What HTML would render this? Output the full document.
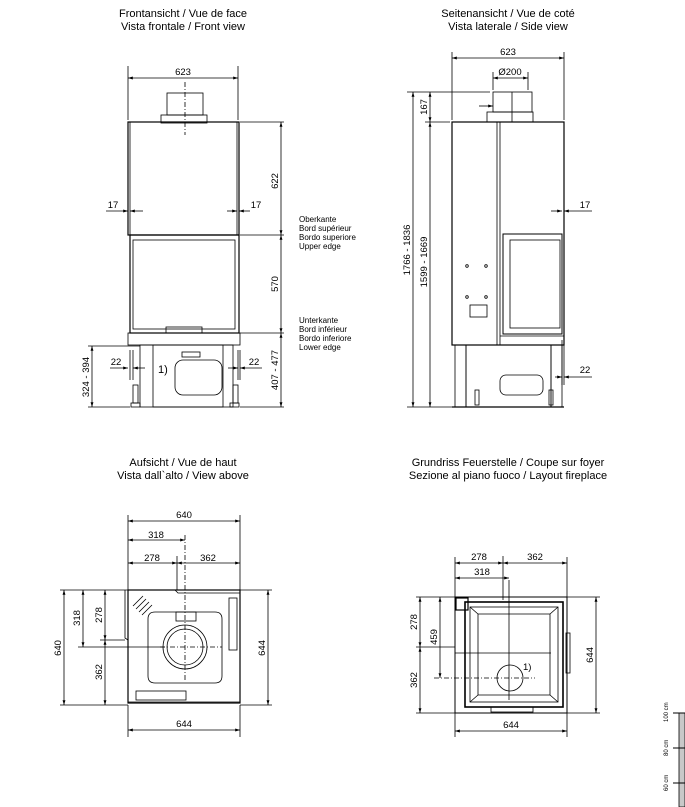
<!DOCTYPE html>
<html><head><meta charset="utf-8"><style>
html,body{margin:0;padding:0;background:#fff;}
svg{display:block;font-family:"Liberation Sans",sans-serif;}
text{fill:#000;}
.t{font-size:11px;text-anchor:middle;}
.d{font-size:9.5px;}
.s{font-size:8px;}
</style></head><body>
<svg width="685" height="807" viewBox="0 0 685 807" xmlns="http://www.w3.org/2000/svg">
<defs>
<marker id="a" viewBox="0 0 10 10" refX="10" refY="5" markerWidth="6" markerHeight="6" orient="auto-start-reverse"><path d="M0,2 L10,5 L0,8z" fill="#000"/></marker>
</defs>
<g stroke="#000" fill="none" stroke-width="0.8">
<!-- ===== FRONT VIEW ===== -->
<rect x="161" y="115" width="46" height="8" fill="#fff"/>
<rect x="167" y="93" width="36" height="22"/>
<line x1="185" y1="82" x2="185" y2="135" stroke-dasharray="5,2,1,2"/>
<rect x="128" y="122" width="111" height="113" stroke-width="1.2"/>
<line x1="130" y1="122" x2="130" y2="235"/><line x1="237" y1="122" x2="237" y2="235"/>
<rect x="130" y="235" width="109" height="98" stroke-width="1.2"/>
<rect x="133" y="240" width="102" height="89"/>
<rect x="166" y="327" width="36" height="6"/>
<rect x="128" y="333" width="112" height="12"/>
<rect x="140" y="345" width="93" height="62"/>
<rect x="153" y="345" width="70" height="62"/>
<rect x="175" y="360" width="47" height="35" rx="8"/>
<rect x="182" y="352" width="18" height="5"/>
<rect x="133" y="385" width="5" height="18"/><rect x="233" y="385" width="5" height="18"/>
<rect x="131" y="403" width="9" height="4"/><rect x="230" y="403" width="9" height="4"/>
<!-- front dims -->
<line x1="128" y1="66" x2="128" y2="120"/><line x1="238" y1="66" x2="238" y2="120"/>
<line x1="128" y1="78" x2="238" y2="78" marker-start="url(#a)" marker-end="url(#a)"/>
<line x1="240" y1="122" x2="284" y2="122"/><line x1="240" y1="235" x2="284" y2="235"/>
<line x1="240" y1="333" x2="284" y2="333"/><line x1="240" y1="407" x2="284" y2="407"/>
<line x1="281" y1="122" x2="281" y2="235" marker-start="url(#a)" marker-end="url(#a)"/>
<line x1="281" y1="235" x2="281" y2="333" marker-start="url(#a)" marker-end="url(#a)"/>
<line x1="281" y1="333" x2="281" y2="407" marker-start="url(#a)" marker-end="url(#a)"/>
<line x1="88" y1="346" x2="140" y2="346"/><line x1="88" y1="407" x2="130" y2="407"/>
<line x1="92" y1="346" x2="92" y2="407" marker-start="url(#a)" marker-end="url(#a)"/>
<line x1="106" y1="211" x2="128" y2="211" marker-end="url(#a)"/><line x1="143" y1="211" x2="130" y2="211" marker-end="url(#a)"/>
<line x1="227" y1="211" x2="237" y2="211" marker-end="url(#a)"/><line x1="250" y1="211" x2="239" y2="211" marker-end="url(#a)"/>
<line x1="110" y1="368" x2="128" y2="368" marker-end="url(#a)"/><line x1="145" y1="368" x2="133" y2="368" marker-end="url(#a)"/>
<line x1="228" y1="368" x2="238" y2="368" marker-end="url(#a)"/><line x1="262" y1="368" x2="240" y2="368" marker-end="url(#a)"/>
<line x1="130" y1="350" x2="130" y2="380"/><line x1="133" y1="350" x2="133" y2="380"/>
<line x1="238" y1="350" x2="238" y2="380"/><line x1="240" y1="350" x2="240" y2="380"/>

<!-- ===== SIDE VIEW ===== -->
<rect x="487" y="112" width="46" height="10" fill="#fff"/>
<rect x="493" y="92" width="39" height="20"/>
<line x1="512" y1="92" x2="512" y2="122"/>
<line x1="479" y1="106" x2="493" y2="106" marker-end="url(#a)"/>
<rect x="452" y="122" width="112" height="223" stroke-width="1.2"/>
<line x1="497" y1="122" x2="497" y2="345"/><line x1="500" y1="122" x2="500" y2="345"/>
<rect x="503" y="234" width="59" height="100" stroke-width="1"/>
<rect x="510" y="240" width="50" height="88"/>
<line x1="500" y1="336" x2="564" y2="336"/>
<rect x="470" y="305" width="17" height="12"/>
<circle cx="467" cy="266" r="1.3"/><circle cx="486" cy="266" r="1.3"/>
<circle cx="467" cy="297" r="1.3"/><circle cx="486" cy="297" r="1.3"/>
<rect x="455" y="345" width="11" height="62"/><rect x="551" y="345" width="11" height="62"/>
<rect x="466" y="345" width="85" height="62"/>
<rect x="500" y="375" width="43" height="20" rx="6"/>
<rect x="475" y="390" width="4" height="15"/><rect x="549" y="390" width="4" height="15"/>
<line x1="452" y1="407" x2="564" y2="407" stroke-width="1.2"/>
<!-- side dims -->
<line x1="452" y1="52" x2="452" y2="120"/><line x1="564" y1="52" x2="564" y2="120"/>
<line x1="452" y1="58" x2="564" y2="58" marker-start="url(#a)" marker-end="url(#a)"/>
<line x1="493" y1="72" x2="493" y2="90"/><line x1="528" y1="72" x2="528" y2="90"/>
<line x1="493" y1="78" x2="528" y2="78" marker-start="url(#a)" marker-end="url(#a)"/>
<line x1="407" y1="92" x2="490" y2="92"/><line x1="425" y1="122" x2="450" y2="122"/><line x1="407" y1="407" x2="452" y2="407"/>
<line x1="413" y1="92" x2="413" y2="407" marker-start="url(#a)" marker-end="url(#a)"/>
<line x1="430" y1="92" x2="430" y2="122" marker-start="url(#a)" marker-end="url(#a)"/>
<line x1="430" y1="122" x2="430" y2="407" marker-start="url(#a)" marker-end="url(#a)"/>
<line x1="551" y1="211" x2="562" y2="211" marker-end="url(#a)"/><line x1="592" y1="211" x2="564" y2="211" marker-end="url(#a)"/>
<line x1="564" y1="200" x2="564" y2="220"/>
<line x1="555" y1="377" x2="562" y2="377" marker-end="url(#a)"/><line x1="592" y1="377" x2="564" y2="377" marker-end="url(#a)"/>
<line x1="562" y1="340" x2="562" y2="385"/><line x1="564" y1="340" x2="564" y2="385"/>

<!-- ===== TOP VIEW ===== -->
<path d="M128,590 L175,590 L178,593 L240,593 L240,702 L128,702 L128,640 L125,638 L125,590"/>
<rect x="128" y="590" width="112" height="113" stroke-width="1.2"/>
<path d="M155,612 L215,612 Q222,612 222,619 L222,676 Q222,683 215,683 L155,683 Q148,683 148,676 L148,619 Q148,612 155,612z"/>
<circle cx="185" cy="647" r="22"/><circle cx="185" cy="647" r="18"/>
<rect x="176" y="612" width="20" height="9"/>
<line x1="160" y1="647" x2="222" y2="647" stroke-dasharray="5,2,1,2"/>
<line x1="185" y1="535" x2="185" y2="680" stroke-dasharray="5,2,1,2"/>
<rect x="229" y="598" width="8" height="52"/>
<rect x="136" y="691" width="50" height="9"/>
<path d="M133,606 l10,-10 M136,609 l10,-10 M139,612 l10,-10 M142,615 l10,-10"/>
<!-- top dims -->
<line x1="128" y1="515" x2="128" y2="590"/><line x1="240" y1="515" x2="240" y2="590"/>
<line x1="128" y1="521" x2="240" y2="521" marker-start="url(#a)" marker-end="url(#a)"/>
<line x1="128" y1="540" x2="185" y2="540" marker-start="url(#a)" marker-end="url(#a)"/>
<line x1="128" y1="563" x2="177" y2="563" marker-start="url(#a)" marker-end="url(#a)"/>
<line x1="177" y1="563" x2="240" y2="563" marker-start="url(#a)" marker-end="url(#a)"/>
<line x1="177" y1="556" x2="177" y2="590"/>
<line x1="60" y1="590" x2="128" y2="590"/><line x1="60" y1="705" x2="128" y2="705"/>
<line x1="78" y1="647" x2="165" y2="647"/><line x1="100" y1="640" x2="125" y2="640"/>
<line x1="64" y1="590" x2="64" y2="705" marker-start="url(#a)" marker-end="url(#a)"/>
<line x1="83" y1="590" x2="83" y2="647" marker-start="url(#a)" marker-end="url(#a)"/>
<line x1="105" y1="590" x2="105" y2="640" marker-start="url(#a)" marker-end="url(#a)"/>
<line x1="105" y1="640" x2="105" y2="705" marker-start="url(#a)" marker-end="url(#a)"/>
<line x1="240" y1="590" x2="272" y2="590"/><line x1="240" y1="705" x2="272" y2="705"/>
<line x1="268" y1="590" x2="268" y2="705" marker-start="url(#a)" marker-end="url(#a)"/>
<line x1="128" y1="705" x2="128" y2="737"/><line x1="240" y1="705" x2="240" y2="737"/>
<line x1="128" y1="730" x2="240" y2="730" marker-start="url(#a)" marker-end="url(#a)"/>

<!-- ===== PLAN ===== -->
<rect x="455" y="597" width="112" height="116" stroke-width="1"/>
<rect x="465" y="602" width="98" height="105" stroke-width="1.6"/>
<rect x="470" y="607" width="88" height="95"/>
<path d="M478,614 L550,614 L550,695 L478,695z"/>
<path d="M470,607 L478,614 M558,607 L550,614 M470,702 L478,695 M558,702 L550,695"/>
<rect x="456" y="598" width="12" height="12" stroke-width="1.2"/>
<line x1="455" y1="653" x2="551" y2="653"/>
<circle cx="510" cy="678" r="13"/>
<line x1="434" y1="678" x2="535" y2="678" stroke-dasharray="5,2,1,2"/>
<line x1="509" y1="580" x2="509" y2="700"/>
<rect x="491" y="707" width="42" height="5"/>
<rect x="566" y="633" width="4" height="40"/>
<!-- plan dims -->
<line x1="455" y1="557" x2="455" y2="597"/><line x1="567" y1="557" x2="567" y2="597"/>
<line x1="455" y1="563" x2="503" y2="563" marker-start="url(#a)" marker-end="url(#a)"/>
<line x1="503" y1="563" x2="567" y2="563" marker-start="url(#a)" marker-end="url(#a)"/>
<line x1="503" y1="556" x2="503" y2="600"/>
<line x1="455" y1="578" x2="509" y2="578" marker-start="url(#a)" marker-end="url(#a)"/>
<line x1="416" y1="597" x2="455" y2="597"/><line x1="416" y1="713" x2="455" y2="713"/>
<line x1="416" y1="647" x2="455" y2="647"/>
<line x1="420" y1="597" x2="420" y2="647" marker-start="url(#a)" marker-end="url(#a)"/>
<line x1="420" y1="647" x2="420" y2="713" marker-start="url(#a)" marker-end="url(#a)"/>
<line x1="440" y1="597" x2="440" y2="678" marker-start="url(#a)" marker-end="url(#a)"/>
<line x1="567" y1="597" x2="600" y2="597"/><line x1="567" y1="713" x2="600" y2="713"/>
<line x1="596" y1="597" x2="596" y2="713" marker-start="url(#a)" marker-end="url(#a)"/>
<line x1="455" y1="713" x2="455" y2="737"/><line x1="567" y1="713" x2="567" y2="737"/>
<line x1="455" y1="731" x2="567" y2="731" marker-start="url(#a)" marker-end="url(#a)"/>
</g>
<!-- scale bar -->
<rect x="679" y="713" width="6" height="94" fill="#c8c8c8" stroke="#000" stroke-width="0.8"/>
<line x1="673" y1="713" x2="685" y2="713" stroke="#000"/><line x1="673" y1="748" x2="685" y2="748" stroke="#000"/><line x1="673" y1="783" x2="685" y2="783" stroke="#000"/>
<g class="s" style="font-size:6px">
<text transform="translate(668,722) rotate(-90)">100 cm</text>
<text transform="translate(668,756) rotate(-90)">80 cm</text>
<text transform="translate(668,791) rotate(-90)">60 cm</text>
</g>

<!-- titles -->
<text class="t" x="183" y="17">Frontansicht / Vue de face</text>
<text class="t" x="183" y="30">Vista frontale / Front view</text>
<text class="t" x="508" y="17">Seitenansicht / Vue de coté</text>
<text class="t" x="508" y="30">Vista laterale / Side view</text>
<text class="t" x="183" y="466">Aufsicht / Vue de haut</text>
<text class="t" x="183" y="479">Vista dall`alto / View above</text>
<text class="t" x="508" y="466">Grundriss Feuerstelle / Coupe sur foyer</text>
<text class="t" x="508" y="479">Sezione al piano fuoco / Layout fireplace</text>

<!-- front labels -->
<g class="d">
<text x="183" y="75" text-anchor="middle">623</text>
<text transform="translate(278,181) rotate(-90)" text-anchor="middle">622</text>
<text transform="translate(278,284) rotate(-90)" text-anchor="middle">570</text>
<text transform="translate(278,370) rotate(-90)" text-anchor="middle">407 - 477</text>
<text transform="translate(89,377) rotate(-90)" text-anchor="middle">324 - 394</text>
<text x="113" y="208" text-anchor="middle">17</text>
<text x="256" y="208" text-anchor="middle">17</text>
<text x="116" y="365" text-anchor="middle">22</text>
<text x="254" y="365" text-anchor="middle">22</text>
<text x="158" y="373" style="font-size:11px">1)</text>
</g>
<g style="font-size:8px">
<text x="299" y="222">Oberkante</text><text x="299" y="231">Bord supérieur</text>
<text x="299" y="240">Bordo superiore</text><text x="299" y="249">Upper edge</text>
<text x="299" y="323">Unterkante</text><text x="299" y="332">Bord inférieur</text>
<text x="299" y="341">Bordo inferiore</text><text x="299" y="350">Lower edge</text>
</g>
<!-- side labels -->
<g class="d">
<text x="508" y="55" text-anchor="middle">623</text>
<text x="510" y="75" text-anchor="middle">Ø200</text>
<text transform="translate(410,250) rotate(-90)" text-anchor="middle">1766 - 1836</text>
<text transform="translate(427,262) rotate(-90)" text-anchor="middle">1599 - 1669</text>
<text transform="translate(427,107) rotate(-90)" text-anchor="middle">167</text>
<text x="585" y="208" text-anchor="middle">17</text>
<text x="585" y="373" text-anchor="middle">22</text>
</g>
<!-- top labels -->
<g class="d">
<text x="184" y="518" text-anchor="middle">640</text>
<text x="156" y="538" text-anchor="middle">318</text>
<text x="152" y="566" text-anchor="middle" dy="-5">278</text>
<text x="208" y="566" text-anchor="middle" dy="-5">362</text>
<text transform="translate(61,648) rotate(-90)" text-anchor="middle">640</text>
<text transform="translate(80,618) rotate(-90)" text-anchor="middle">318</text>
<text transform="translate(102,615) rotate(-90)" text-anchor="middle">278</text>
<text transform="translate(102,672) rotate(-90)" text-anchor="middle">362</text>
<text transform="translate(265,648) rotate(-90)" text-anchor="middle">644</text>
<text x="184" y="727" text-anchor="middle">644</text>
</g>
<!-- plan labels -->
<g class="d">
<text x="479" y="560" text-anchor="middle">278</text>
<text x="535" y="560" text-anchor="middle">362</text>
<text x="482" y="575" text-anchor="middle">318</text>
<text transform="translate(417,622) rotate(-90)" text-anchor="middle">278</text>
<text transform="translate(417,680) rotate(-90)" text-anchor="middle">362</text>
<text transform="translate(437,637) rotate(-90)" text-anchor="middle">459</text>
<text transform="translate(593,655) rotate(-90)" text-anchor="middle">644</text>
<text x="511" y="728" text-anchor="middle">644</text>
<text x="523" y="670">1)</text>
</g>
</svg>
</body></html>
